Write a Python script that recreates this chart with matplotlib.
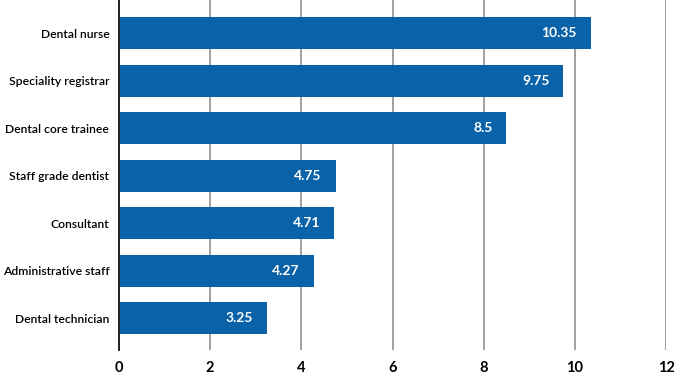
import matplotlib.pyplot as plt

# job roles and their values (top to bottom)
roles = ['Dental nurse', 'Speciality registrar', 'Dental core trainee',
         'Staff grade dentist', 'Consultant', 'Administrative staff',
         'Dental technician']
values = [10.35, 9.75, 8.5, 4.75, 4.71, 4.27, 3.25]
xticks = [0, 2, 4, 6, 8, 10, 12]

barColor = '#0a62a8'
plt.rcParams['font.family'] = ['Lato', 'DejaVu Sans']

fig = plt.figure(figsize=(6.74, 3.77), dpi=100)
ax = fig.add_axes([0.1766, 0.0716, 0.8115, 0.9284])

pos = list(range(len(roles)))
ax.barh(pos, values, height=0.67, color=barColor, zorder=3)

# value labels inside the bar ends
for p, v in zip(pos, values):
    ax.annotate(f'{v:g}', xy=(v, p), xytext=(-10, 0), textcoords='offset points',
                ha='right', va='center', color='white', fontsize=10,
                fontweight='bold')

ax.set_xlim(0, 12)
ax.set_ylim(len(roles) - 1 + 0.67, -0.7)
ax.set_xticks(xticks)
ax.set_xticklabels([str(t) for t in xticks], fontweight='bold', fontsize=10.5)
ax.set_yticks(pos)
ax.set_yticklabels(roles, fontsize=8.7, fontweight='semibold')
ax.tick_params(axis='both', length=0)
ax.tick_params(axis='x', pad=8)
ax.tick_params(axis='y', pad=7)

ax.grid(axis='x', color='#a0a0a0', linewidth=1.4, zorder=0)
for s in ['top', 'right', 'bottom']:
    ax.spines[s].set_visible(False)
ax.spines['left'].set_color('#222222')
ax.spines['left'].set_linewidth(1.4)
ax.spines['left'].set_zorder(4)

fig.savefig('out.png', dpi=100)
